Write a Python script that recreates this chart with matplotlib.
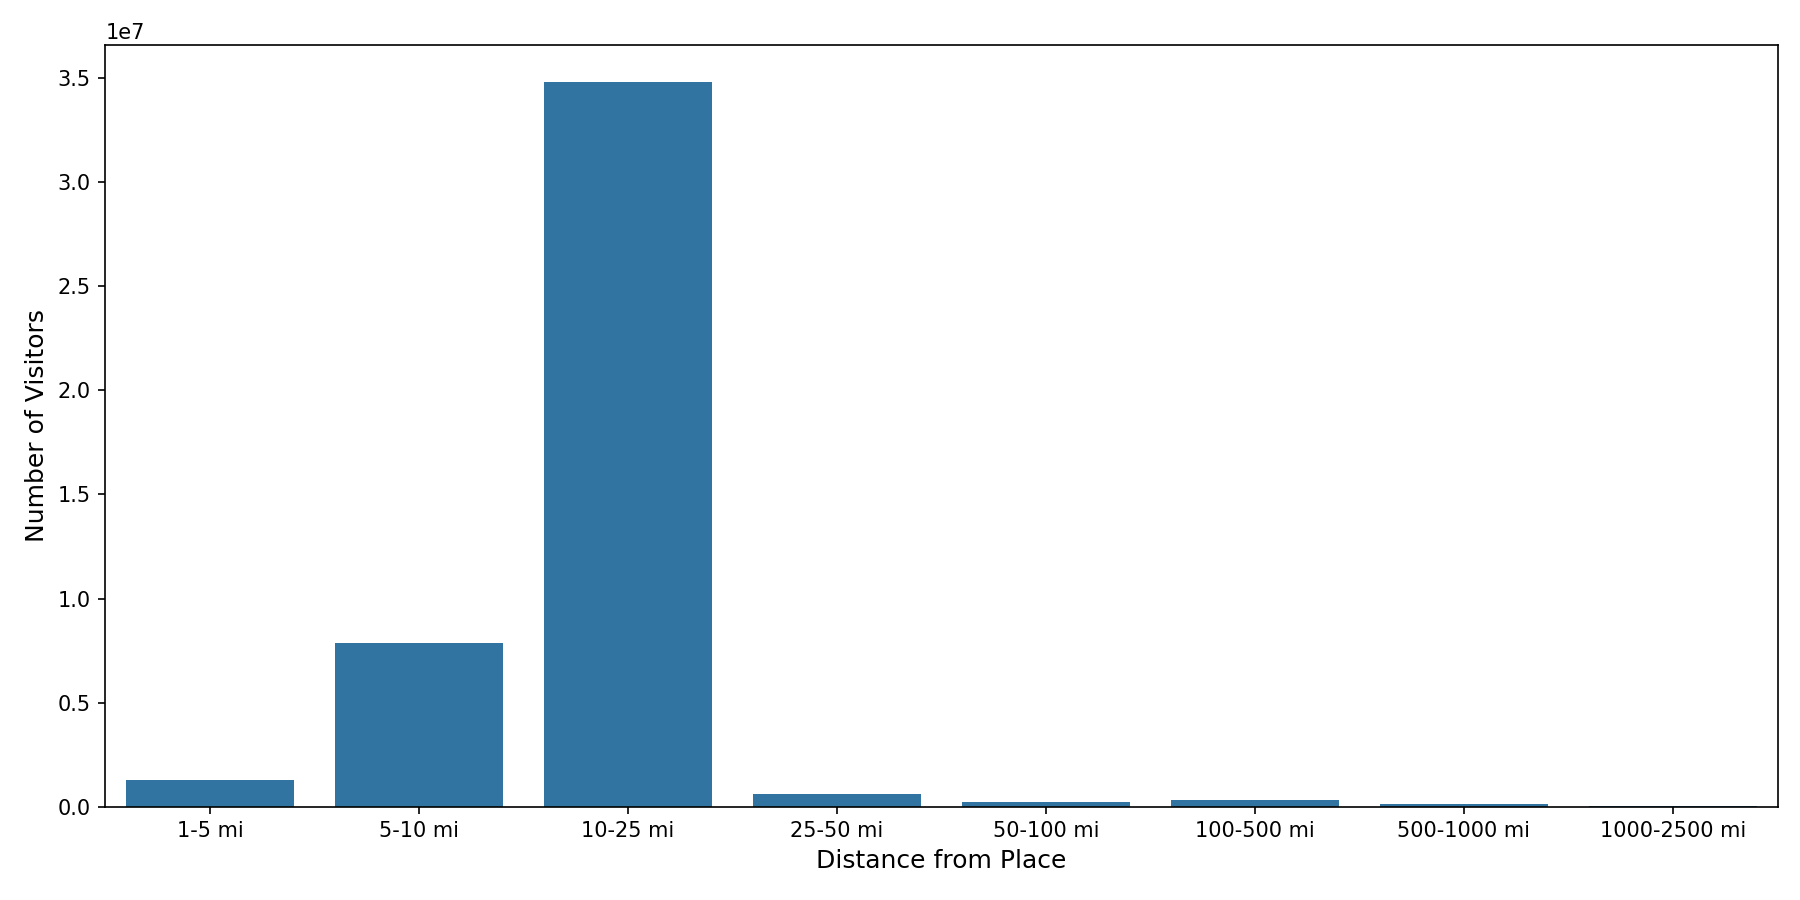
import matplotlib
matplotlib.use("Agg")
import matplotlib.pyplot as plt
import seaborn as sns

# visitors by distance bucket
distances = ['1-5 mi', '5-10 mi', '10-25 mi', '25-50 mi', '50-100 mi',
             '100-500 mi', '500-1000 mi', '1000-2500 mi']
visitors = [1280000, 7880000, 34850000, 620000, 220000, 320000, 120000, 15000]

fig, ax = plt.subplots(figsize=(12, 6))
sns.barplot(x=distances, y=visitors, ax=ax)
ax.set_xlabel('Distance from Place', fontsize=12)
ax.set_ylabel('Number of Visitors', fontsize=12)
plt.tight_layout()
plt.savefig('out.png', dpi=150)
